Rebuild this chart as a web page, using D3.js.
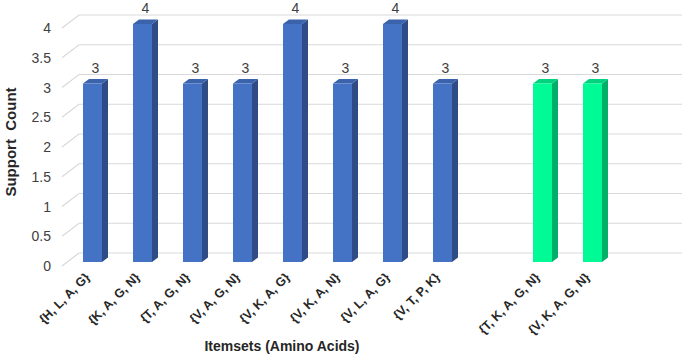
<!DOCTYPE html>
<html>
<head>
<meta charset="utf-8">
<script src="https://cdn.jsdelivr.net/npm/d3@7"></script>
<style>
  body { margin: 0; background: #fff; }
  text { font-family: "Liberation Sans", Arial, sans-serif; }
</style>
</head>
<body>
<div id="chart"></div>
<script>
// chart data
const blueSets = ["{H, L, A, G}", "{K, A, G, N}", "{T, A, G, N}", "{V, A, G, N}",
                  "{V, K, A, G}", "{V, K, A, N}", "{V, L, A, G}", "{V, T, P, K}"];
const blueCounts = [3, 4, 3, 3, 4, 3, 4, 3];
const greenSets = ["{T, K, A, G, N}", "{V, K, A, G, N}"];
const greenCounts = [3, 3];
const yTicks = [0, 0.5, 1, 1.5, 2, 2.5, 3, 3.5, 4];

const width = 685, height = 357;

// one blank slot between the groups and one after them
const slots = [...blueSets, "_gap1", ...greenSets, "_gap2"];
const bars = blueSets.map((k, i) => ({key: k, v: blueCounts[i], grp: "blue"}))
  .concat(greenSets.map((k, i) => ({key: k, v: greenCounts[i], grp: "green"})));

const colors = {
  blue:  {front: "#4472C4", side: "#2F4C86", top: "#3A63AC"},
  green: {front: "#00FA96", side: "#00B068", top: "#00D27F"}
};

const svg = d3.select("#chart").append("svg")
  .attr("width", width).attr("height", height);

const x = d3.scaleBand().domain(slots).range([67.5, 667.5])
  .paddingInner(0.62).paddingOuter(0.31);
const y = d3.scaleLinear().domain([0, 4]).range([262, 24]);

// depth offsets (pseudo 3d)
const wallDx = 17, wallDy = -13;   // front edge -> back wall
const backDy = -9;                  // bar base -> back wall
const barDx = 6, barDy = -4.5;

// gridlines: side wall slant + back wall
const grid = svg.append("g").attr("stroke", "#D9D9D9").attr("stroke-width", 1.2).attr("fill", "none");
yTicks.forEach(t => {
  const yb = y(t) + backDy;
  grid.append("path")
    .attr("d", `M${79 - wallDx},${yb - wallDy} L79,${yb} L682,${yb}`);
});

// y tick labels
svg.append("g").selectAll("text").data(yTicks).enter().append("text")
  .attr("x", 51)
  .attr("y", d => y(d) + backDy - wallDy + 5)
  .attr("text-anchor", "end")
  .attr("font-size", 14)
  .attr("fill", "#404040")
  .text(d => d);

// bars
const g = svg.append("g");
bars.forEach(d => {
  const x0 = x(d.key), bw = x.bandwidth(), y0 = y(0), y1 = y(d.v);
  const c = colors[d.grp];
  g.append("polygon")
    .attr("points", [[x0 + bw, y1], [x0 + bw + barDx, y1 + barDy], [x0 + bw + barDx, y0 + barDy], [x0 + bw, y0]].join(" "))
    .attr("fill", c.side);
  g.append("polygon")
    .attr("points", [[x0, y1], [x0 + barDx, y1 + barDy], [x0 + bw + barDx, y1 + barDy], [x0 + bw, y1]].join(" "))
    .attr("fill", c.top);
  g.append("rect")
    .attr("x", x0).attr("y", y1)
    .attr("width", bw).attr("height", y0 - y1)
    .attr("fill", c.front);
  g.append("text")
    .attr("x", x0 + bw / 2 + barDx / 2)
    .attr("y", y1 - 11)
    .attr("text-anchor", "middle")
    .attr("font-size", 14)
    .attr("fill", "#404040")
    .text(d.v);
});

// x tick labels
svg.append("g").selectAll("text").data(bars).enter().append("text")
  .attr("transform", d => `translate(${x(d.key) + x.bandwidth() / 2 - 2},${278}) rotate(-45)`)
  .attr("text-anchor", "end")
  .attr("font-size", 12.5)
  .attr("font-weight", "bold")
  .attr("fill", "#262626")
  .text(d => d.key);

// axis titles
svg.append("text")
  .attr("transform", "translate(16,142) rotate(-90)")
  .attr("text-anchor", "middle")
  .attr("font-size", 15)
  .attr("font-weight", "bold")
  .attr("fill", "#262626")
  .style("white-space", "pre")
  .text("Support  Count");

svg.append("text")
  .attr("x", 282).attr("y", 351)
  .attr("text-anchor", "middle")
  .attr("font-size", 14)
  .attr("font-weight", "bold")
  .attr("fill", "#262626")
  .text("Itemsets (Amino Acids)");
</script>
</body>
</html>
